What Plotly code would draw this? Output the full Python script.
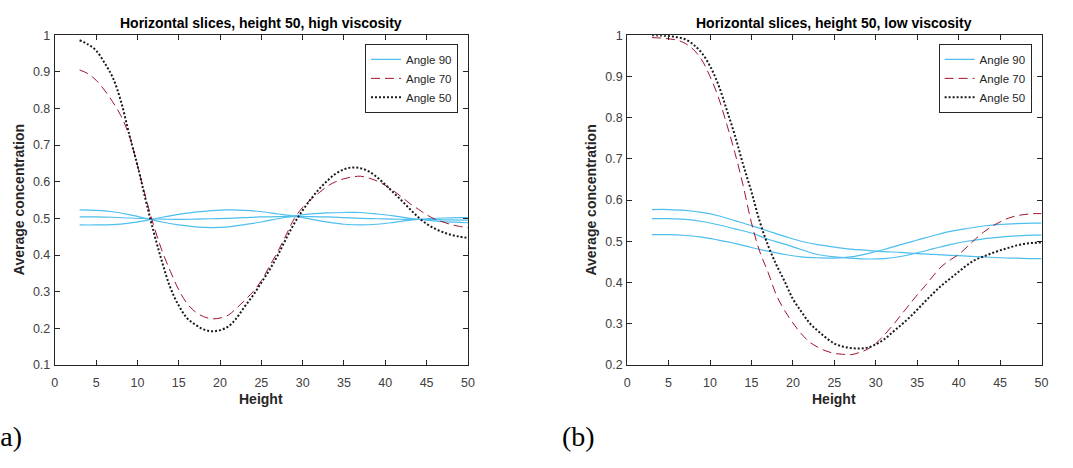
import plotly.graph_objects as go

W, H = 1073, 468

# ---------------- data ----------------
heights = list(range(3, 51))
heights_b = [3, 5, 7, 9, 11, 13, 15, 17, 19, 21, 23, 25, 27, 29, 31, 33, 35, 37, 39, 41, 43, 45, 47, 49, 50]

# (a) high viscosity
hi_angle70 = [0.905, 0.895, 0.877, 0.85, 0.818, 0.78, 0.726, 0.645, 0.557, 0.478, 0.41, 0.355, 0.305,
              0.268, 0.245, 0.232, 0.226, 0.228, 0.236, 0.255, 0.277, 0.30, 0.33, 0.37, 0.41, 0.455,
              0.50, 0.53, 0.552, 0.57, 0.588, 0.60, 0.608, 0.613, 0.615, 0.61, 0.602, 0.59, 0.575,
              0.558, 0.54, 0.525, 0.51, 0.498, 0.49, 0.483, 0.478, 0.475]
hi_angle50 = [0.986, 0.975, 0.958, 0.925, 0.885, 0.82, 0.73, 0.645, 0.55, 0.46, 0.38, 0.31, 0.262,
              0.228, 0.21, 0.197, 0.192, 0.195, 0.205, 0.228, 0.26, 0.29, 0.325, 0.36, 0.40, 0.445,
              0.487, 0.522, 0.553, 0.58, 0.603, 0.622, 0.634, 0.639, 0.637, 0.628, 0.612, 0.592,
              0.57, 0.548, 0.525, 0.503, 0.485, 0.472, 0.462, 0.455, 0.45, 0.447]
hi_angle90_a = [0.523, 0.522, 0.518, 0.51, 0.50, 0.49, 0.482, 0.477, 0.475, 0.477, 0.483, 0.49, 0.499,
                0.507, 0.512, 0.515, 0.516, 0.516, 0.512, 0.507, 0.50, 0.495, 0.491, 0.489, 0.488]
hi_angle90_b = [0.482, 0.482, 0.483, 0.487, 0.494, 0.503, 0.511, 0.517, 0.521, 0.523, 0.522, 0.518, 0.512,
                0.506, 0.498, 0.49, 0.484, 0.482, 0.484, 0.489, 0.495, 0.499, 0.501, 0.502, 0.502]
hi_angle90_c = [0.504, 0.504, 0.503, 0.501, 0.499, 0.498, 0.497, 0.498, 0.499, 0.50, 0.502, 0.504, 0.505,
                0.505, 0.505, 0.504, 0.502, 0.50, 0.499, 0.498, 0.497, 0.497, 0.496, 0.495, 0.495]

# (b) low viscosity
lo_angle70 = [0.994, 0.993, 0.991, 0.988, 0.98, 0.965, 0.94, 0.90, 0.85, 0.785, 0.715, 0.635, 0.545,
              0.475, 0.425, 0.37, 0.332, 0.302, 0.276, 0.256, 0.243, 0.234, 0.228, 0.226, 0.225, 0.23,
              0.238, 0.252, 0.272, 0.295, 0.32, 0.345, 0.37, 0.393, 0.418, 0.44, 0.455, 0.468, 0.486,
              0.505, 0.522, 0.536, 0.547, 0.556, 0.562, 0.565, 0.567, 0.567]
lo_angle50 = [1.0, 0.999, 0.998, 0.995, 0.99, 0.977, 0.957, 0.925, 0.88, 0.82, 0.757, 0.686, 0.62,
              0.548, 0.49, 0.443, 0.403, 0.36, 0.33, 0.302, 0.283, 0.266, 0.252, 0.245, 0.241, 0.24,
              0.242, 0.25, 0.262, 0.279, 0.296, 0.314, 0.334, 0.355, 0.375, 0.394, 0.41, 0.426, 0.442,
              0.455, 0.463, 0.471, 0.478, 0.484, 0.49, 0.494, 0.496, 0.497]
lo_angle90_a = [0.577, 0.577, 0.575, 0.57, 0.562, 0.55, 0.538, 0.525, 0.512, 0.50, 0.492, 0.486, 0.481,
                0.478, 0.475, 0.473, 0.47, 0.468, 0.466, 0.464, 0.462, 0.46, 0.459, 0.458, 0.458]
lo_angle90_b = [0.555, 0.555, 0.553, 0.548, 0.54, 0.53, 0.52, 0.505, 0.493, 0.48, 0.468, 0.462, 0.459,
                0.457, 0.458, 0.463, 0.472, 0.482, 0.492, 0.50, 0.506, 0.51, 0.513, 0.515, 0.515]
lo_angle90_c = [0.516, 0.516, 0.514, 0.51, 0.503, 0.495, 0.485, 0.476, 0.468, 0.462, 0.46, 0.459, 0.462,
                0.47, 0.48, 0.492, 0.503, 0.514, 0.524, 0.531, 0.537, 0.541, 0.543, 0.544, 0.544]

titles = ["Horizontal slices, height 50, high viscosity",
          "Horizontal slices, height 50, low viscosity"]
legend_names = ["Angle 90", "Angle 70", "Angle 50"]
panel_labels = ["(a)", "(b)"]
x_label = "Height"
y_label = "Average concentration"

# ---------------- style ----------------
BLUE = "#4DBEEE"
RED = "#A2142F"
BLACK = "#1a1a1a"
AX = "#262626"
FONT = "Liberation Sans, Arial, Helvetica, sans-serif"
SERIF = "Liberation Serif, DejaVu Serif, serif"


def px(x):
    return x / W


def py(y):
    return 1 - y / H


# plot areas in pixels
areas = [
    dict(x0=52.3, x1=469.3, y0=29, y1=369, yr=[0.1, 1.0]),
    dict(x0=630.0, x1=1048.3, y0=29, y1=369, yr=[0.2, 1.0]),
]

fig = go.Figure()

panels = [
    (hi_angle90_a, hi_angle90_b, hi_angle90_c, hi_angle70, hi_angle50),
    (lo_angle90_a, lo_angle90_b, lo_angle90_c, lo_angle70, lo_angle50),
]

for i, (b1, b2, b3, r, k) in enumerate(panels):
    xa = "x" if i == 0 else "x2"
    ya = "y" if i == 0 else "y2"
    lg = "legend" if i == 0 else "legend2"
    for j, b in enumerate([b1, b2, b3]):
        fig.add_trace(go.Scatter(x=heights_b, y=b, mode="lines", xaxis=xa, yaxis=ya,
                                 line=dict(color=BLUE, width=1.2, shape="spline"),
                                 name=legend_names[0], legend=lg, showlegend=(j == 0),
                                 legendgroup=f"b{i}"))
    fig.add_trace(go.Scatter(x=heights, y=r, mode="lines", xaxis=xa, yaxis=ya,
                             line=dict(color=RED, width=1, dash="9px,5px", shape="spline"),
                             name=legend_names[1], legend=lg))
    fig.add_trace(go.Scatter(x=heights, y=k, mode="lines", xaxis=xa, yaxis=ya,
                             line=dict(color=BLACK, width=2, dash="2px,2px", shape="spline"),
                             name=legend_names[2], legend=lg))

axis_common = dict(showline=True, linecolor=AX, linewidth=1, mirror="ticks",
                   ticks="inside", ticklen=5, tickcolor=AX, tickwidth=1,
                   showgrid=False, zeroline=False,
                   tickfont=dict(family=FONT, size=12.5, color="#404040"))

layout = dict(width=W, height=H, margin=dict(l=0, r=0, t=0, b=0),
              plot_bgcolor="white", paper_bgcolor="white", showlegend=True)

for i, a in enumerate(areas):
    sx = "" if i == 0 else "2"
    layout["xaxis" + sx] = dict(axis_common, domain=[px(a["x0"]), px(a["x1"])],
                                range=[0, 50], dtick=5, tick0=0, ticklabelstandoff=6,
                                anchor="y" + sx)
    layout["yaxis" + sx] = dict(axis_common, domain=[py(a["y1"]), py(a["y0"])],
                                range=a["yr"], dtick=0.1, tick0=0, ticklabelstandoff=1,
                                anchor="x" + sx)
    layout["legend" + ("" if i == 0 else "2")] = dict(
        x=px(a["x1"] - 10), y=py(a["y0"] + 9), xanchor="right", yanchor="top",
        bgcolor="white", bordercolor=AX, borderwidth=1,
        font=dict(family=FONT, size=11.5, color=AX),
        tracegroupgap=0, itemwidth=30)

fig.update_layout(**layout)

annotations = []
for i, a in enumerate(areas):
    cx = (a["x0"] + a["x1"]) / 2
    cy = (a["y0"] + a["y1"]) / 2
    annotations.append(dict(x=px(cx), y=py(17), xref="paper", yref="paper", text="<b>" + titles[i] + "</b>",
                            showarrow=False, xanchor="center", yanchor="middle",
                            font=dict(family=FONT, size=14, color="black")))
    annotations.append(dict(x=px(cx), y=py(404), xref="paper", yref="paper", text="<b>" + x_label + "</b>",
                            showarrow=False, xanchor="center", yanchor="middle",
                            font=dict(family=FONT, size=14, color=AX)))
    annotations.append(dict(x=px(a["x0"] - 36), y=py(cy), xref="paper", yref="paper",
                            text="<b>" + y_label + "</b>", textangle=-90,
                            showarrow=False, xanchor="center", yanchor="middle",
                            font=dict(family=FONT, size=14, color=AX)))

annotations.append(dict(x=px(21), y=py(443), xref="paper", yref="paper", text=panel_labels[0],
                        showarrow=False, xanchor="right", yanchor="middle",
                        font=dict(family=SERIF, size=28, color="black")))
annotations.append(dict(x=px(581), y=py(443), xref="paper", yref="paper", text=panel_labels[1],
                        showarrow=False, xanchor="center", yanchor="middle",
                        font=dict(family=SERIF, size=28, color="black")))

fig.update_layout(annotations=annotations)

fig.write_html("out.html")
